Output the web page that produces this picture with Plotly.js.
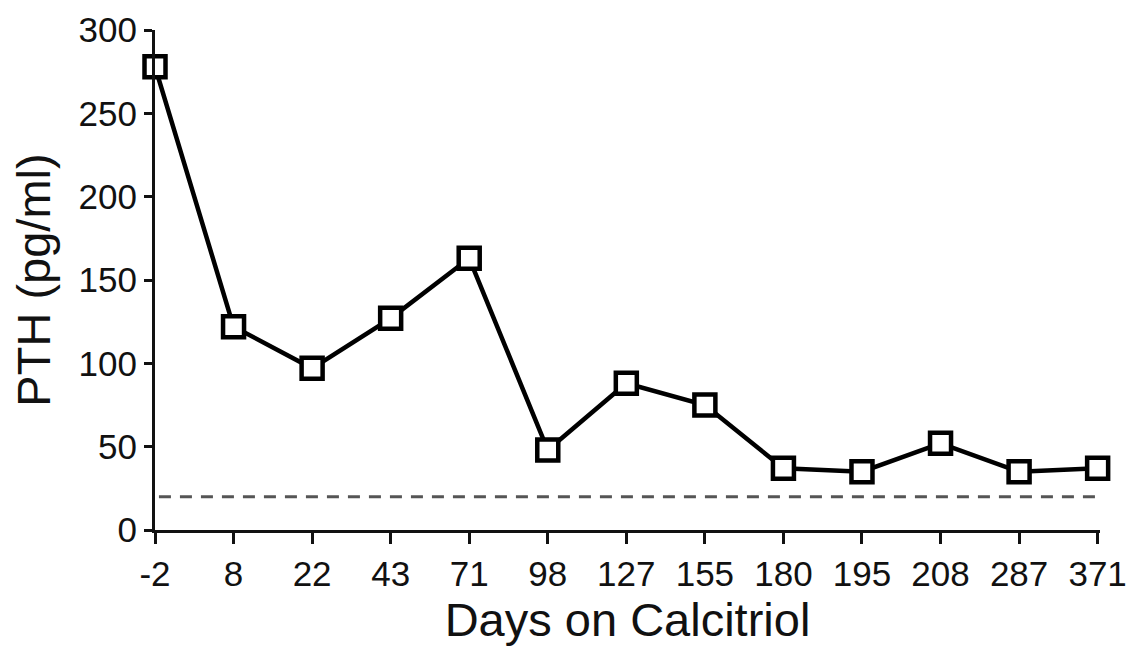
<!DOCTYPE html>
<html>
<head>
<meta charset="utf-8">
<script src="https://cdn.plot.ly/plotly-3.0.1.min.js"></script>
<style>html,body{margin:0;padding:0;background:#fff;}#chart{width:1128px;height:646px;}</style>
</head>
<body>
<div id="chart"></div>
<script>
const days = ["-2","8","22","43","71","98","127","155","180","195","208","287","371"];
const pth = [278, 122, 97, 127, 163, 48, 88, 75, 37, 35, 52, 35, 37];
const referenceLevel = 20;
const yTicks = [0, 50, 100, 150, 200, 250, 300];

const idx = days.map((d, i) => i);

const traces = [{
  x: idx,
  y: pth,
  type: 'scatter',
  mode: 'lines+markers',
  line: {color: '#000', width: 4.5},
  marker: {symbol: 'square', size: 21, color: '#fff', line: {color: '#000', width: 4.5}},
  hoverinfo: 'skip',
  cliponaxis: false
}];

const layout = {
  width: 1128, height: 646,
  margin: {l: 155, r: 28, t: 30, b: 116},
  paper_bgcolor: '#fff', plot_bgcolor: '#fff',
  showlegend: false,
  font: {family: 'Liberation Sans, Arial, sans-serif', color: '#111'},
  xaxis: {
    range: [0, 12.03],
    tickmode: 'array', tickvals: idx, ticktext: days,
    showgrid: false, zeroline: false,
    showline: true, linecolor: '#111', linewidth: 3,
    ticks: 'outside', ticklen: 11, tickwidth: 3, tickcolor: '#111',
    tickfont: {size: 35, color: '#111'},
    title: {text: 'Days on Calcitriol', font: {size: 47, color: '#111'}, standoff: 9}
  },
  yaxis: {
    range: [0, 300],
    tickmode: 'array', tickvals: yTicks,
    showgrid: false, zeroline: false,
    showline: true, linecolor: '#111', linewidth: 3,
    ticks: 'outside', ticklen: 8, tickwidth: 3, tickcolor: '#111',
    tickfont: {size: 35, color: '#111'},
    title: {text: 'PTH (pg/ml)', font: {size: 47, color: '#111'}, standoff: 14}
  },
  shapes: [{
    type: 'line', xref: 'x', yref: 'y',
    x0: 0.05, x1: 12, y0: referenceLevel, y1: referenceLevel,
    line: {color: '#555', width: 3, dash: '12px,9px'},
    layer: 'below'
  }]
};

Plotly.newPlot('chart', traces, layout, {displayModeBar: false, staticPlot: true});
</script>
</body>
</html>
